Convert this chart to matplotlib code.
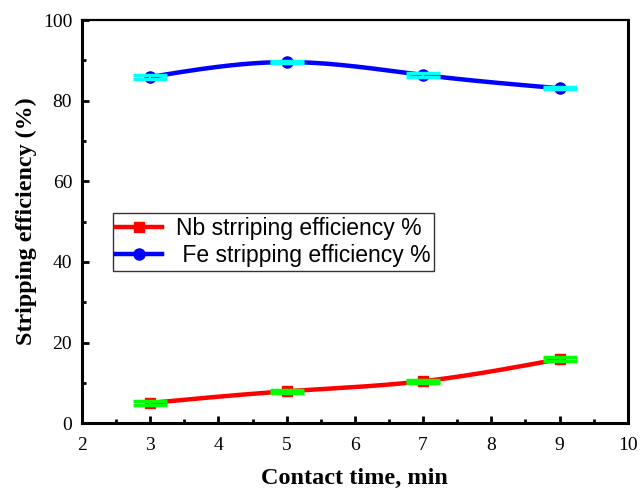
import numpy as np
import matplotlib.pyplot as plt

contact_time = [3, 5, 7, 9]
nb_eff = [5.0, 7.9, 10.4, 15.9]
fe_eff = [85.9, 89.6, 86.4, 83.1]
nb_err = [0.5, 0.4, 0.4, 0.4]
fe_err = [0.4, 0.3, 0.4, 0.3]


def smooth(x, y, n=200):
    # natural cubic spline through the measured points (display only)
    x = np.asarray(x, float)
    y = np.asarray(y, float)
    k = len(x)
    h = np.diff(x)
    A = np.zeros((k, k))
    b = np.zeros(k)
    A[0, 0] = A[-1, -1] = 1
    for i in range(1, k - 1):
        A[i, i - 1] = h[i - 1]
        A[i, i] = 2 * (h[i - 1] + h[i])
        A[i, i + 1] = h[i]
        b[i] = 6 * ((y[i + 1] - y[i]) / h[i] - (y[i] - y[i - 1]) / h[i - 1])
    m = np.linalg.solve(A, b)
    xs = np.linspace(x[0], x[-1], n)
    idx = np.clip(np.searchsorted(x, xs) - 1, 0, k - 2)
    t = xs - x[idx]
    hi = h[idx]
    ys = (m[idx] * (x[idx + 1] - xs) ** 3 / (6 * hi) + m[idx + 1] * t ** 3 / (6 * hi)
          + (y[idx] / hi - m[idx] * hi / 6) * (x[idx + 1] - xs)
          + (y[idx + 1] / hi - m[idx + 1] * hi / 6) * t)
    return xs, ys


plt.rcParams['font.family'] = 'Liberation Serif'
fig = plt.figure(figsize=(6.4, 4.92), dpi=100)
ax = fig.add_axes([0.128, 0.140, 0.853, 0.819])

xs, ys = smooth(contact_time, nb_eff)
ax.plot(xs, ys, color='red', lw=3.2, zorder=2)
xs, ys = smooth(contact_time, fe_eff)
ax.plot(xs, ys, color='blue', lw=3.2, zorder=2)

ax.plot(contact_time, nb_eff, 's', color='red', ms=7.5, zorder=3)
ax.plot(contact_time, fe_eff, 'o', color='blue', ms=8, zorder=3)
ax.errorbar(contact_time, nb_eff, yerr=nb_err, fmt='none', ecolor='#00ff00',
            elinewidth=1.5, capsize=12, capthick=2.5, zorder=4)
ax.errorbar(contact_time, fe_eff, yerr=fe_err, fmt='none', ecolor='cyan',
            elinewidth=1.5, capsize=12, capthick=2.5, zorder=4)

# legend proxies
ax.plot([], [], '-s', color='red', lw=3.2, ms=7, label='Nb strriping efficiency %')
ax.plot([], [], '-o', color='blue', lw=3.2, ms=8, label=' Fe stripping efficiency %')
leg = ax.legend(loc='upper left', bbox_to_anchor=(0.057, 0.521),
                prop={'family': 'Liberation Sans', 'size': 16.5},
                frameon=True, fancybox=False, edgecolor='black', handlelength=2.0,
                borderpad=0.15, labelspacing=0.2, handletextpad=0.6, borderaxespad=0)
leg.get_frame().set_linewidth(1.0)

ax.set_xlim(2, 10)
ax.set_ylim(0, 100)
ax.set_xticks(np.arange(2, 11, 1))
ax.set_xticks(np.arange(2.5, 10, 1), minor=True)
ax.set_yticks(np.arange(0, 101, 20))
ax.set_yticks(np.arange(10, 100, 20), minor=True)
ax.tick_params(which='both', direction='in', labelsize=14, width=2)
ax.tick_params(which='major', length=5)
ax.tick_params(which='minor', length=3)
ax.tick_params(axis='x', which='major', pad=10)
ax.tick_params(axis='y', which='major', pad=7)
for s in ax.spines.values():
    s.set_linewidth(2.2)
ax.spines['top'].set_linewidth(1.6)

ax.set_xlabel('Contact time, min', fontsize=17.5, fontweight='bold', labelpad=10)
ax.set_ylabel('Stripping efficiency (%)', fontsize=17.3, fontweight='bold', labelpad=4)

fig.savefig('out.png', dpi=100)
